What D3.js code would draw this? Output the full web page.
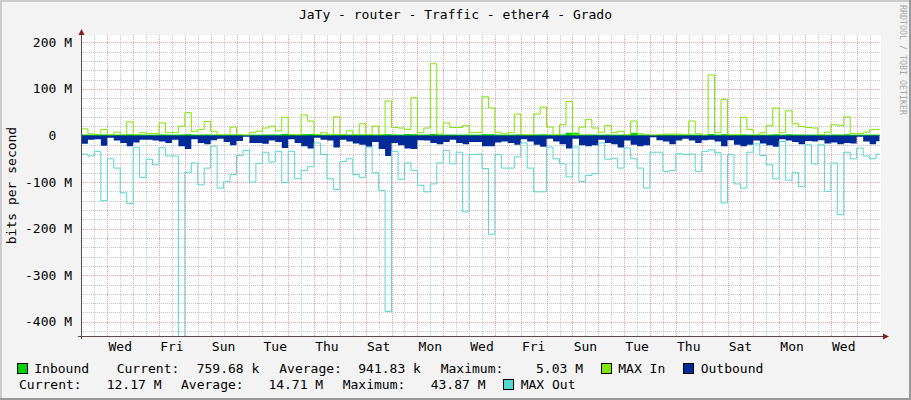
<!DOCTYPE html>
<html>
<head>
<meta charset="utf-8">
<script src="https://cdn.jsdelivr.net/npm/d3@7"></script>
<style>
html,body{margin:0;padding:0;background:#F3F3F3;}
svg{display:block;}
text{font-family:"DejaVu Sans Mono",monospace;font-size:13px;fill:#000;}
</style>
</head>
<body>
<svg id="chart" width="911" height="400"></svg>
<script>
// ---------- data (6-hour consolidated values, in Mbit/s) ----------
const inbound = [0.9,0.7,0.6,1.1,0.8,0.7,0.6,1.3,0.7,0.8,0.6,0.7,1.2,0.8,0.7,1.0,1.6,0.9,0.8,1.1,0.8,0.6,0.6,0.9,0.7,0.5,0.7,0.8,1.0,1.1,0.9,2.4,
0.7,0.6,1.5,2.0,0.7,0.8,0.6,1.2,0.7,0.9,0.6,1.1,0.6,0.9,0.7,1.6,1.0,0.9,1.8,1.7,0.8,0.9,2.2,0.7,1.0,0.9,0.8,1.0,0.7,0.7,1.4,1.5,
0.8,0.6,0.7,1.2,0.6,0.6,1.1,1.3,0.9,0.6,1.0,5.03,4.8,0.9,1.1,0.9,0.7,1.0,0.7,0.8,0.6,4.6,0.7,0.6,0.5,0.6,0.7,0.7,0.7,0.6,
1.0,0.7,0.5,2.1,0.7,1.6,0.6,0.6,1.2,0.8,0.6,0.7,0.9,1.5,0.7,1.4,1.1,0.9,0.8,0.8,0.6,0.7,1.0,0.9,1.3,0.7,0.7,0.7,0.8,0.76];

const maxIn = [14,3.6,2,13,1,7,1.5,29,1.5,6,4,4,27,6,6,20,49,9,13,30,9,1.4,1.4,18,1.4,0.5,6,9,16,20,10,39,
2,1.4,44,31,2,6,1.4,40,2,10,2,25,2,20,2,74,17,16,13,81,6,16,154,3,27,17,17,21,6,6,83,59,
7,3.6,6,46,1.4,1.4,46,61,18,1.4,23,73,1.4,18,34,16,7,21,6,9,1,31,4,1.4,0.5,1.4,3,3,3,1.4,
31,3.6,0.5,130,6,77,1.4,1.4,39,13,1.4,6,21,59,6,53,25,19,17,16,1.4,7,23,21,40,4,4,7,13,13];

// outbound values are plotted below the zero line
const outbound = [18,9,8,22,5,11,16,23,15,9,9,11,13,16,9,23,29,8,16,19,10,7,14,21,12,3,16,16,18,11,14,27,
8,16,23,28,5,9,11,26,9,13,17,20,24,14,29,43.9,16,21,28,29,10,11,16,19,14,9,16,19,14,14,23,23,
15,13,16,20,8,13,20,24,7,13,19,28,7,21,23,21,9,16,19,26,11,20,23,21,4,10,13,19,11,7,
11,16,10,9,13,23,10,20,23,20,11,17,21,24,8,11,14,19,12,13,10,17,15,19,16,17,3,13,19,12.2];

const maxOut = [40,44,34,140,50,70,123,146,26,90,51,63,26,44,44,440,79,59,106,70,23,113,99,84,43,32,100,60,36,57,34,101,
34,93,75,67,16,41,93,116,56,50,84,90,25,80,118,378,34,94,59,75,107,121,104,59,32,61,36,164,41,40,71,212,
41,70,70,46,16,70,121,121,25,50,61,89,25,99,86,82,16,51,49,70,27,50,70,113,36,36,77,75,39,41,
40,77,34,31,37,145,41,104,113,36,18,43,63,93,13,96,80,110,20,61,20,120,59,170,36,50,27,44,50,40];

const yTickValues = [200, 100, 0, -100, -200, -300, -400];
const yTickLabels = ["200 M", "100 M", "0  ", "-100 M", "-200 M", "-300 M", "-400 M"];
const xTickDays   = [1, 3, 5, 7, 9, 11, 13, 15, 17, 19, 21, 23, 25, 27, 29];
const xTickLabels = ["Wed","Fri","Sun","Tue","Thu","Sat","Mon","Wed","Fri","Sun","Tue","Thu","Sat","Mon","Wed"];
const inStats  = ["759.68 k", "941.83 k", "5.03 M"];
const outStats = ["12.17 M", "14.71 M", "43.87 M"];
const title = "JaTy - router - Traffic - ether4 - Grado";

// ---------- layout ----------
const HOUR = 36e5, DAY = 24 * HOUR, STEP = 6 * HOUR;
const T0 = Date.UTC(2024, 0, 2);          // a Tuesday, 00:00
const tEnd = T0 + 30.88 * DAY;
const L = 81, R = 881, T = 35, B = 336;

const x = d3.scaleUtc().domain([T0 - 0.018 * DAY, T0 + 30.94 * DAY]).range([L, R]);
const y = d3.scaleLinear().domain([-430.5, 215.7]).range([B, T]);

const svg = d3.select("#chart");
svg.append("rect").attr("width", 911).attr("height", 400).attr("fill", "#F3F3F3");
// 3D border
svg.append("path").attr("d", "M0,0H911V2H2V400H0Z").attr("fill", "#CBCBCB");
svg.append("path").attr("d", "M911,0V400H0V398H909V0Z").attr("fill", "#999999");

const defs = svg.append("defs");
defs.append("clipPath").attr("id", "plotclip").append("rect")
  .attr("x", L).attr("y", T).attr("width", R - L).attr("height", B - T);

svg.append("rect").attr("x", L).attr("y", T).attr("width", R - L).attr("height", B - T).attr("fill", "#fff");

// ---------- grid ----------
const grid = svg.append("g");
const minorColor = "#C4C4C4", majorColor = "#F2A0A0";
for (let v = -420; v <= 200; v += 20) {
  if (v % 100 === 0) continue;
  grid.append("line").attr("x1", L).attr("x2", R).attr("y1", Math.round(y(v)) + 0.5).attr("y2", Math.round(y(v)) + 0.5)
    .attr("stroke", minorColor).attr("stroke-dasharray", "1,1");
}
for (let k = 1; k <= 61; k += 2) {
  const xx = Math.round(x(T0 + k * 12 * HOUR)) + 0.5;
  if (xx > R) continue;
  grid.append("line").attr("x1", xx).attr("x2", xx).attr("y1", T).attr("y2", B)
    .attr("stroke", minorColor).attr("stroke-dasharray", "1,1");
}
yTickValues.forEach(v => {
  grid.append("line").attr("x1", L).attr("x2", R).attr("y1", Math.round(y(v)) + 0.5).attr("y2", Math.round(y(v)) + 0.5)
    .attr("stroke", majorColor).attr("stroke-dasharray", "1,1");
});
for (let k = 1; k <= 30; k++) {
  const xx = Math.round(x(T0 + k * DAY)) + 0.5;
  if (xx > R) continue;
  grid.append("line").attr("x1", xx).attr("x2", xx).attr("y1", T).attr("y2", B)
    .attr("stroke", majorColor).attr("stroke-dasharray", "1,1");
}

// ---------- data ----------
function stepData(vals, sign) {
  const pts = vals.map((v, i) => ({ t: T0 + i * STEP, v: sign * v }));
  pts.push({ t: tEnd, v: sign * vals[vals.length - 1] });
  return pts;
}
const plot = svg.append("g").attr("clip-path", "url(#plotclip)");
const area = d3.area().curve(d3.curveStepAfter).x(d => x(d.t)).y0(y(0)).y1(d => y(d.v));
const line = d3.line().curve(d3.curveStepAfter).x(d => x(d.t)).y(d => y(d.v));

plot.append("path").datum(stepData(inbound, 1)).attr("d", area)
  .attr("fill", "#00CF00").attr("stroke", "#00CF00").attr("stroke-width", 1);
plot.append("path").datum(stepData(maxIn, 1)).attr("d", line)
  .attr("fill", "none").attr("stroke", "#7EE600").attr("stroke-width", 1);
plot.append("path").datum(stepData(outbound, -1)).attr("d", area)
  .attr("fill", "#002A97");
plot.append("path").datum(stepData(maxOut, -1)).attr("d", line)
  .attr("fill", "none").attr("stroke", "#55D6D3").attr("stroke-width", 1);

// ---------- axes ----------
const axisColor = "#5a4a4a", arrowColor = "#8B1A1A";
svg.append("line").attr("x1", L - 3).attr("x2", R + 3).attr("y1", B + 0.5).attr("y2", B + 0.5).attr("stroke", axisColor);
svg.append("line").attr("x1", L + 0.5).attr("x2", L + 0.5).attr("y1", B + 3).attr("y2", T - 3).attr("stroke", axisColor);
svg.append("path").attr("d", `M${L + 0.5},29 L${L - 2.5},35 L${L + 3.5},35 Z`).attr("fill", arrowColor);
svg.append("path").attr("d", `M${R + 8},${B + 0.5} L${R + 2},${B - 2.5} L${R + 2},${B + 3.5} Z`).attr("fill", arrowColor);

// y tick labels
svg.append("g").selectAll("text").data(yTickValues).join("text")
  .attr("x", 72).attr("y", d => y(d) + 4.5).attr("text-anchor", "end")
  .style("white-space", "pre")
  .text((d, i) => yTickLabels[i]);

// x tick labels (centered at noon)
svg.append("g").selectAll("text").data(xTickDays).join("text")
  .attr("x", d => x(T0 + (d + 0.5) * DAY)).attr("y", 351).attr("text-anchor", "middle")
  .text((d, i) => xTickLabels[i]);

// title
svg.append("text").attr("x", 455.5).attr("y", 18.5).attr("text-anchor", "middle").text(title);

// y axis title
svg.append("text").attr("transform", `translate(15.5,${(T + B) / 2}) rotate(-90)`)
  .attr("text-anchor", "middle").text("bits per second");

// watermark
svg.append("text").attr("transform", "translate(900,5) rotate(90)")
  .style("font-size", "8.3px").style("fill", "#A8A8A8").text("RRDTOOL / TOBI OETIKER");

// ---------- legend ----------
function swatch(xx, yy, color) {
  svg.append("rect").attr("x", xx + 0.5).attr("y", yy + 0.5).attr("width", 10).attr("height", 10)
    .attr("fill", color).attr("stroke", "#000").attr("stroke-width", 1);
}
function label(xx, yy, s) {
  svg.append("text").attr("x", xx).attr("y", yy).style("white-space", "pre").text(s);
}
const r1 = 373.3, r2 = 389.3;
swatch(17, 363, "#00CF00");
label(34.3, r1, "Inbound");
label(116.7, r1, "Current:");
label(196.7, r1, inStats[0]);
label(279.3, r1, "Average:");
label(358.3, r1, inStats[1]);
label(440.7, r1, "Maximum:");
svg.append("text").attr("x", 583).attr("y", r1).attr("text-anchor", "end").text(inStats[2]);
swatch(601, 363, "#7EE600");
label(618.3, r1, "MAX In");
swatch(683, 363, "#002A97");
label(700.7, r1, "Outbound");

label(19, r2, "Current:");
svg.append("text").attr("x", 161.5).attr("y", r2).attr("text-anchor", "end").text(outStats[0]);
label(181, r2, "Average:");
svg.append("text").attr("x", 323.2).attr("y", r2).attr("text-anchor", "end").text(outStats[1]);
label(342.7, r2, "Maximum:");
svg.append("text").attr("x", 485.5).attr("y", r2).attr("text-anchor", "end").text(outStats[2]);
swatch(503, 379, "#55D6D3");
label(520.7, r2, "MAX Out");
</script>
</body>
</html>
